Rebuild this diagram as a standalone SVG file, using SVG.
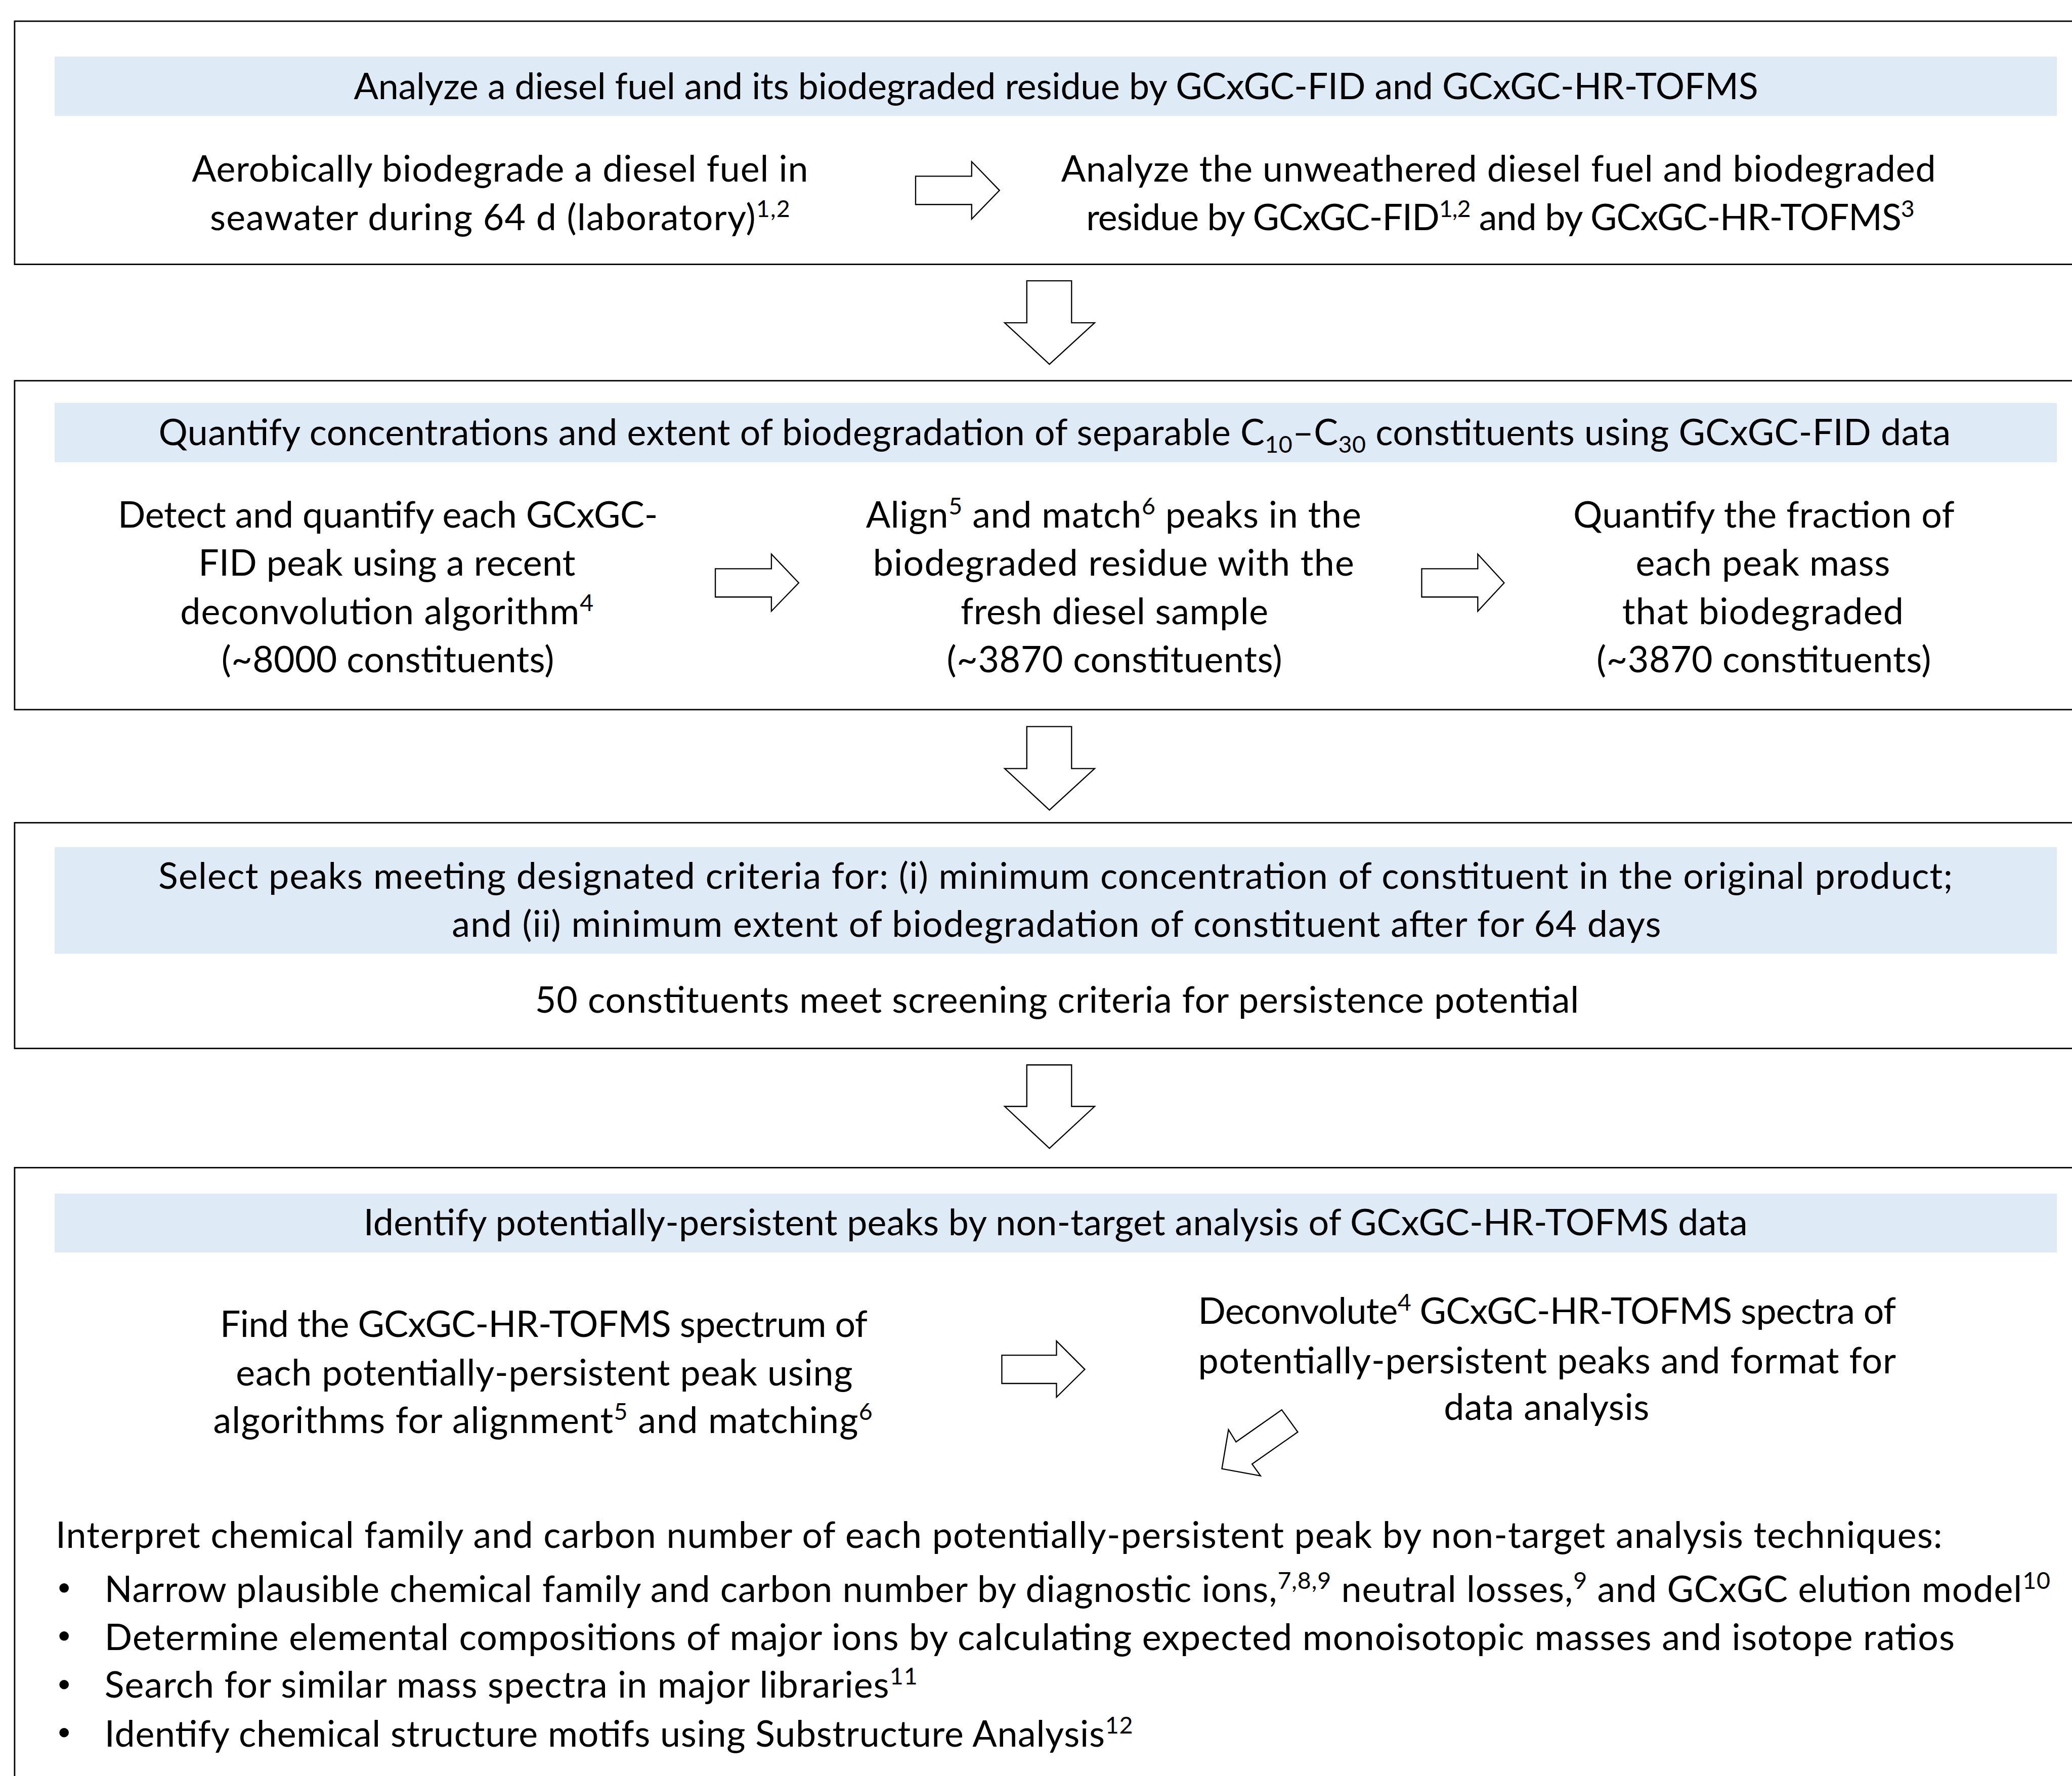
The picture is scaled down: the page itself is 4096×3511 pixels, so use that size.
<svg xmlns="http://www.w3.org/2000/svg" width="4096" height="3511" viewBox="0 0 4096 3511">
<style>
.t { font-family: Lato, "Liberation Sans", sans-serif; font-size: 77px; fill: #000; }
.c { text-anchor: middle; }
.s { font-size: 50px; }
.box { fill: none; stroke: #000; stroke-width: 3; }
.band { fill: #DEEAF6; }
.arr { fill: #fff; stroke: #000; stroke-width: 2.5; stroke-linejoin: miter; }
</style>
<rect width="4096" height="3511" fill="#fff"/>
<g transform="scale(0.93154)">
<g id="step1">
<rect class="box" x="31" y="45" width="4420" height="516"/>
<rect class="band" x="116" y="120" width="4249" height="126"/>
<text class="t c" x="2241" y="210" textLength="2980" lengthAdjust="spacing">Analyze a diesel fuel and its biodegraded residue by GCxGC-FID and GCxGC-HR-TOFMS</text>
<text class="t c" x="1061" y="385" textLength="1308" lengthAdjust="spacing">Aerobically biodegrade a diesel fuel in</text>
<text class="t c" x="1061" y="488" textLength="1231" lengthAdjust="spacing">seawater during 64 d (laboratory)<tspan class="s" dy="-28">1,2</tspan></text>
<text class="t c" x="3180" y="385" textLength="1856" lengthAdjust="spacing">Analyze the unweathered diesel fuel and biodegraded</text>
<text class="t c" x="3184" y="488" textLength="1758" lengthAdjust="spacing">residue by GCxGC-FID<tspan class="s" dy="-28">1,2</tspan><tspan dy="28"> and by GCxGC-HR-TOFMS</tspan><tspan class="s" dy="-28">3</tspan></text>
</g>
<g id="step2">
<rect class="box" x="31" y="808" width="4420" height="698"/>
<rect class="band" x="116" y="855" width="4249" height="126"/>
<text class="t c" x="2238" y="945" textLength="3803" lengthAdjust="spacing">Quantify concentrations and extent of biodegradation of separable C<tspan class="s" dy="16">10</tspan><tspan dy="-16">–C</tspan><tspan class="s" dy="16">30</tspan><tspan dy="-16"> constituents using GCxGC-FID data</tspan></text>
<text class="t c" x="823" y="1120" textLength="1146" lengthAdjust="spacing">Detect and quantify each GCxGC-</text>
<text class="t c" x="821" y="1222" textLength="800" lengthAdjust="spacing">FID peak using a recent</text>
<text class="t c" x="821" y="1325" textLength="877" lengthAdjust="spacing">deconvolution algorithm<tspan class="s" dy="-28">4</tspan></text>
<text class="t c" x="823" y="1427" textLength="706" lengthAdjust="spacing">(~8000 constituents)</text>
<text class="t c" x="2363" y="1120" textLength="1051" lengthAdjust="spacing">Align<tspan class="s" dy="-28">5</tspan><tspan dy="28"> and match</tspan><tspan class="s" dy="-28">6</tspan><tspan dy="28"> peaks in the</tspan></text>
<text class="t c" x="2363" y="1222" textLength="1021" lengthAdjust="spacing">biodegraded residue with the</text>
<text class="t c" x="2365" y="1325" textLength="653" lengthAdjust="spacing">fresh diesel sample</text>
<text class="t c" x="2365" y="1427" textLength="712" lengthAdjust="spacing">(~3870 constituents)</text>
<text class="t c" x="3743" y="1120" textLength="809" lengthAdjust="spacing">Quantify the fraction of</text>
<text class="t c" x="3741" y="1222" textLength="540" lengthAdjust="spacing">each peak mass</text>
<text class="t c" x="3741" y="1325" textLength="597" lengthAdjust="spacing">that biodegraded</text>
<text class="t c" x="3743" y="1427" textLength="710" lengthAdjust="spacing">(~3870 constituents)</text>
</g>
<g id="step3">
<rect class="box" x="31" y="1746" width="4420" height="479"/>
<rect class="band" x="116" y="1798" width="4249" height="226"/>
<text class="t c" x="2240" y="1886" textLength="3808" lengthAdjust="spacing">Select peaks meeting designated criteria for: (i) minimum concentration of constituent in the original product;</text>
<text class="t c" x="2242" y="1988" textLength="2566" lengthAdjust="spacing">and (ii) minimum extent of biodegradation of constituent after for 64 days</text>
<text class="t c" x="2243" y="2149" textLength="2215" lengthAdjust="spacing">50 constituents meet screening criteria for persistence potential</text>
</g>
<g id="step4">
<rect class="box" x="31" y="2478" width="4420" height="1400"/>
<rect class="band" x="116" y="2533" width="4249" height="125"/>
<text class="t c" x="2240" y="2622" textLength="2937" lengthAdjust="spacing">Identify potentially-persistent peaks by non-target analysis of GCxGC-HR-TOFMS data</text>
<text class="t c" x="1154" y="2837" textLength="1374" lengthAdjust="spacing">Find the GCxGC-HR-TOFMS spectrum of</text>
<text class="t c" x="1155" y="2940" textLength="1309" lengthAdjust="spacing">each potentially-persistent peak using</text>
<text class="t c" x="1152" y="3041" textLength="1399" lengthAdjust="spacing">algorithms for alignment<tspan class="s" dy="-28">5</tspan><tspan dy="28"> and matching</tspan><tspan class="s" dy="-28">6</tspan></text>
<text class="t c" x="3283" y="2809" textLength="1481" lengthAdjust="spacing">Deconvolute<tspan class="s" dy="-28">4</tspan><tspan dy="28"> GCxGC-HR-TOFMS spectra of</tspan></text>
<text class="t c" x="3283" y="2914" textLength="1481" lengthAdjust="spacing">potentially-persistent peaks and format for</text>
<text class="t c" x="3282" y="3013" textLength="436" lengthAdjust="spacing">data analysis</text>
<text class="t" x="118" y="3285" textLength="4004" lengthAdjust="spacing">Interpret chemical family and carbon number of each potentially-persistent peak by non-target analysis techniques:</text>
<circle cx="136" cy="3370" r="10"/>
<circle cx="136" cy="3472" r="10"/>
<circle cx="136" cy="3575" r="10"/>
<circle cx="136" cy="3677" r="10"/>
<text class="t" x="222" y="3400" textLength="4129" lengthAdjust="spacing">Narrow plausible chemical family and carbon number by diagnostic ions,<tspan class="s" dy="-28">7,8,9</tspan><tspan dy="28"> neutral losses,</tspan><tspan class="s" dy="-28">9</tspan><tspan dy="28"> and GCxGC elution model</tspan><tspan class="s" dy="-28">10</tspan></text>
<text class="t" x="222" y="3502" textLength="3926" lengthAdjust="spacing">Determine elemental compositions of major ions by calculating expected monoisotopic masses and isotope ratios</text>
<text class="t" x="222" y="3603" textLength="1725" lengthAdjust="spacing">Search for similar mass spectra in major libraries<tspan class="s" dy="-28">11</tspan></text>
<text class="t" x="222" y="3707" textLength="2182" lengthAdjust="spacing">Identify chemical structure motifs using Substructure Analysis<tspan class="s" dy="-28">12</tspan></text>
</g>
<g id="connectors">
<polygon class="arr" points="1943,374 2062,374 2062,343 2121,404 2062,465 2062,434 1943,434"/>
<polygon class="arr" points="2179,596 2274,596 2274,685 2323,685 2227,773 2132,685 2179,685"/>
<polygon class="arr" points="1518,1207 1637,1207 1637,1176 1695,1237 1637,1297 1637,1267 1518,1267"/>
<polygon class="arr" points="3017,1207 3136,1207 3136,1176 3192,1237 3136,1297 3136,1267 3017,1267"/>
<polygon class="arr" points="2179,1542 2274,1542 2274,1631 2323,1631 2227,1719 2132,1631 2179,1631"/>
<polygon class="arr" points="2179,2260 2274,2260 2274,2348 2323,2348 2227,2437 2132,2348 2179,2348"/>
<polygon class="arr" points="2126,2876 2242,2876 2242,2846 2302,2906 2242,2965 2242,2936 2126,2936"/>
<polygon class="arr" points="2720,2992 2754,3039 2657,3107 2675,3132 2593,3117 2607,3034 2623,3060"/>
</g>
</g>
</svg>
